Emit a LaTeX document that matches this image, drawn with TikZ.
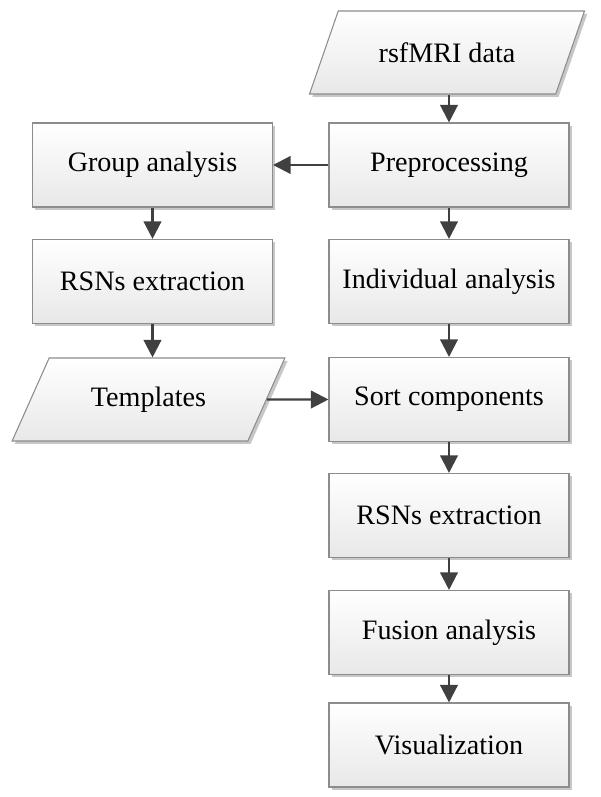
\documentclass[tikz,border=0pt]{standalone}
\usepackage{fontspec}
\setmainfont{Liberation Serif}
\usetikzlibrary{arrows.meta,shapes.geometric,shadows}
\definecolor{edgegray}{HTML}{8C8C8C}
\definecolor{arrowgray}{HTML}{404040}

\begin{document}
\begin{tikzpicture}[>={Triangle[length=10pt,width=10pt]},
  box/.style={draw=edgegray,line width=0.6pt,top color=white,bottom color=black!9,
    minimum width=4.8cm,minimum height=1.68cm,inner sep=2pt,
    drop shadow={shadow xshift=1.6pt,shadow yshift=-1.6pt,fill=black!22,opacity=1},
    font=\fontsize{16}{19}\selectfont},
  data/.style={box,trapezium,trapezium left angle=55,trapezium right angle=125,
    trapezium stretches=true,minimum width=5.5cm,minimum height=1.66cm},
  flow/.style={->,draw=arrowgray,line width=1.3pt}]
\useasboundingbox (0,0) rectangle (12,15.94);
\node[data] (raw) at (8.94,14.89) {rsfMRI data};
\node[box] (pre) at (8.98,12.64) {Preprocessing};
\node[box] (ind) at (8.98,10.31) {Individual analysis};
\node[box] (sort) at (8.98,7.95) {Sort components};
\node[box] (rsnR) at (8.98,5.63) {RSNs extraction};
\node[box] (fus) at (8.98,3.29) {Fusion analysis};
\node[box] (vis) at (8.98,1.04) {Visualization};
%
\node[box] (grp) at (3.05,12.64) {Group analysis};
\node[box] (rsnL) at (3.05,10.31) {RSNs extraction};
\node[data] (tmpl) at (2.97,7.95) {Templates};
%
\draw[flow] (raw.south -| pre) -- (pre);
\draw[flow] (pre) -- (grp);
\draw[flow] (pre) -- (ind);
\draw[flow] (ind) -- (sort);
\draw[flow] (sort) -- (rsnR);
\draw[flow] (rsnR) -- (fus);
\draw[flow] (fus) -- (vis);
\draw[flow] (grp) -- (rsnL);
\draw[flow] (rsnL) -- (rsnL |- tmpl.north);
\draw[flow] (tmpl) -- (sort);
\end{tikzpicture}
\end{document}
